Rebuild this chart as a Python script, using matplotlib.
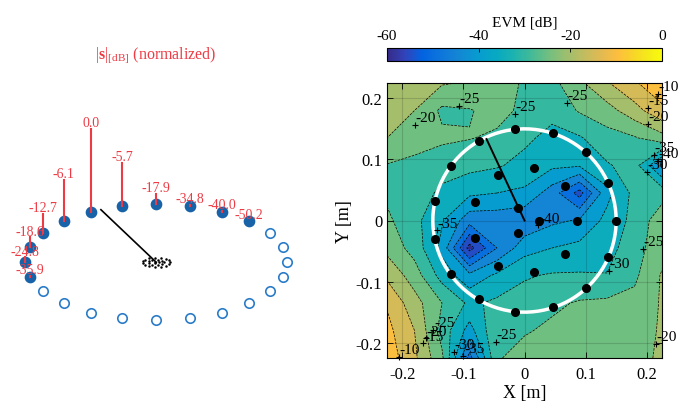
import numpy as np
import matplotlib
matplotlib.use('Agg')
import matplotlib.pyplot as plt
from matplotlib.colors import LinearSegmentedColormap, Normalize
from matplotlib.cm import ScalarMappable

plt.rcParams['font.family'] = 'Liberation Serif'
plt.rcParams['mathtext.fontset'] = 'custom'
plt.rcParams['mathtext.rm'] = 'Liberation Serif'
plt.rcParams['mathtext.bf'] = 'Liberation Serif:bold'
plt.rcParams['mathtext.it'] = 'Liberation Serif:italic'
plt.rcParams['axes.unicode_minus'] = False

# ---- left panel: element ring and normalized excitation ----
active_deg = [195, 180, 165, 150, 135, 120, 105, 90, 75, 60, 45]
active_db = [-35.9, -24.8, -18.6, -12.7, -6.1, 0.0, -5.7, -17.9, -34.8, -40.0, -50.2]
idle_deg = [30, 15, 0, 345, 330, 315, 300, 285, 270, 255, 240, 225, 210]
steer_deg = 115

# ---- right panel: measured EVM map ----
grid_x = [-0.225, -0.18, -0.135, -0.09, -0.045, 0.0, 0.045, 0.09, 0.135, 0.18, 0.225]
grid_y = [0.225, 0.18, 0.135, 0.09, 0.045, 0.0, -0.045, -0.09, -0.135, -0.18, -0.225]
evm_db = [
    [-18, -19, -19.5, -20.5, -23, -25.5, -26.5, -21, -15.5, -10.5, -7],
    [-18.5, -20, -26, -25.3, -23.5, -26, -28.5, -24.5, -22, -17, -11],
    [-20, -22.5, -24, -24.8, -25.8, -29, -31.5, -30.5, -27, -25.5, -22],
    [-25.3, -26.5, -28, -28.5, -29.5, -31.5, -34, -34.5, -30.5, -28, -41],
    [-26, -27.5, -31, -34, -35, -36, -42.5, -52, -36.5, -28.5, -27],
    [-24, -28.5, -34.5, -43, -43, -44, -41, -39.5, -33.5, -28.5, -22],
    [-21.5, -27, -36.5, -57, -45, -37, -35, -33.5, -32, -27, -22],
    [-16, -22.5, -32, -38.5, -34, -30.5, -29.5, -29.5, -29.8, -26, -19.5],
    [-10.5, -18, -25, -31, -29, -28, -26, -24.5, -24, -23.5, -19.5],
    [-8.5, -15, -27, -37, -25.5, -25.5, -24, -22.5, -22.5, -22, -19.5],
    [-7, -14, -24, -47, -25.5, -23, -22.5, -22, -21.5, -21, -19.5],
]
levels = list(range(-60, 5, 5))

pts_x = [0.150, 0.137, 0.100, 0.0465, -0.015, -0.074, -0.120, -0.146, -0.146, -0.120,
         -0.074, -0.015, 0.0465, 0.100, 0.137,
         0.086, 0.066, 0.0155, -0.043, -0.081, -0.081, -0.043, 0.0155, 0.066,
         0.024, -0.011, -0.011]
pts_y = [0.000, 0.062, 0.112, 0.143, 0.149, 0.130, 0.089, 0.032, -0.031, -0.088,
         -0.129, -0.149, -0.142, -0.111, -0.060,
         0.0, 0.056, 0.086, 0.075, 0.030, -0.029, -0.075, -0.084, -0.055,
         0.0, 0.020, -0.020]
ring_r = 0.15

lab_x = [-0.180, -0.108, -0.0155, 0.069, 0.2185, 0.202, 0.202, 0.212, 0.218, 0.200,
         -0.143, 0.0225, 0.194, 0.1385, 0.2147, -0.047, -0.116, -0.100, -0.149,
         -0.162, -0.166, -0.206]
lab_y = [0.156, 0.188, 0.174, 0.193, 0.2075, 0.184, 0.158, 0.108, 0.098, 0.080,
         -0.016, -0.008, -0.046, -0.082, -0.202, -0.198, -0.215, -0.222, -0.179,
         -0.193, -0.201, -0.223]
lab_v = [-20, -25, -25, -25, -10, -15, -20, -35, -40, -30,
         -35, -40, -25, -30, -20, -25, -30, -35, -25,
         -20, -15, -10]

# MATLAB parula, sampled
parula = LinearSegmentedColormap.from_list('parula', [
    (0 / 63, (0.2081, 0.1663, 0.5292)),
    (4 / 63, (0.1959, 0.2645, 0.7279)),
    (8 / 63, (0.0117, 0.3875, 0.8820)),
    (12 / 63, (0.0498, 0.4586, 0.8641)),
    (16 / 63, (0.0793, 0.5200, 0.8312)),
    (21 / 63, (0.0265, 0.6137, 0.8135)),
    (25 / 63, (0.0267, 0.6642, 0.7607)),
    (29 / 63, (0.1133, 0.7015, 0.6859)),
    (33 / 63, (0.2586, 0.7317, 0.5954)),
    (37 / 63, (0.4420, 0.7481, 0.5033)),
    (41 / 63, (0.6099, 0.7473, 0.4337)),
    (45 / 63, (0.7525, 0.7384, 0.3768)),
    (49 / 63, (0.8824, 0.7274, 0.3217)),
    (53 / 63, (0.9938, 0.7455, 0.2403)),
    (57 / 63, (0.9697, 0.8481, 0.1475)),
    (60 / 63, (0.9598, 0.9218, 0.0948)),
    (63 / 63, (0.9763, 0.9831, 0.0538)),
])
norm = Normalize(-60, 0)
# each band takes the colour of its lower level
band_colors = [parula(norm(v)) for v in levels[:-1]]

red = '#ec3b44'
blue_fill = '#1862a8'
blue_open = '#2a7cc8'

fig = plt.figure(figsize=(6.78, 4.10), dpi=100)

# left panel in ellipse units (1 unit = 131 px)
axl = fig.add_axes([0, 0, 339 / 678, 1])
axl.axis('off')
axl.set_xlim(-1.193, 1.395)
axl.set_ylim(-1.120, 2.010)
squash = 0.443
stem_scale = 0.636

th = np.deg2rad(idle_deg)
axl.plot(np.cos(th), squash * np.sin(th), 'o', ls='none', mfc='white',
         mec=blue_open, ms=6.8, mew=1.2)
th = np.deg2rad(active_deg)
ex, ey = np.cos(th), squash * np.sin(th)
axl.plot(ex, ey, 'o', ls='none', color=blue_fill, ms=7.4)
for x, y, db in zip(ex, ey, active_db):
    h = stem_scale * 10 ** (db / 20)
    axl.plot([x, x], [y, y + h], color=red, lw=1.5, zorder=4)
    axl.annotate(f'{db:.1f}', (x, y + h), xytext=(0, 2), textcoords='offset points',
                 ha='center', va='baseline', color=red, fontsize=10, zorder=5)

st = np.deg2rad(steer_deg)
axl.plot([0, np.cos(st)], [0, squash * np.sin(st)], color='k', lw=1.2)
# measurement points, seen from the array
axl.plot(np.array(pts_x) * 0.712, np.array(pts_y) * 0.712 * 0.33,
         'o', ls='none', color='k', ms=0.8)

fig.text(156 / 678, 1 - 60 / 410, r'$|\mathbf{s}|_{[\mathrm{dB}]}$ (normalized)',
         color=red, fontsize=11.5, ha='center', va='baseline')

# right panel
ax = fig.add_axes([387 / 678, (410 - 359) / 410, 275 / 678, 275 / 410])
Z = np.array(evm_db)
ax.contourf(grid_x, grid_y, Z, levels=levels, colors=band_colors)
ax.contour(grid_x, grid_y, Z, levels=levels, colors='k', linewidths=0.5)
ax.set_xlim(-0.225, 0.225)
ax.set_ylim(-0.225, 0.225)
ax.set_xticks([-0.2, -0.1, 0, 0.1, 0.2])
ax.set_yticks([-0.2, -0.1, 0, 0.1, 0.2])
ax.set_xticklabels(['-0.2', '-0.1', '0', '0.1', '0.2'])
ax.set_yticklabels(['-0.2', '-0.1', '0', '0.1', '0.2'])
ax.tick_params(direction='in', top=True, right=True, labelsize=12, length=4, width=0.6)
ax.tick_params(axis='x', pad=6)
ax.set_axisbelow(False)
ax.grid(True, color='k', alpha=0.15, lw=0.8)
ax.set_xlabel('X [m]', fontsize=13, labelpad=1)
ax.set_ylabel('Y [m]', fontsize=13, labelpad=2)
for s in ax.spines.values():
    s.set_linewidth(0.8)

tt = np.linspace(0, 2 * np.pi, 200)
ax.plot(ring_r * np.cos(tt), ring_r * np.sin(tt), color='white', lw=2.5, zorder=3)
ax.plot([0, 0.147 * np.cos(st)], [0, 0.147 * np.sin(st)], color='k', lw=1.4, zorder=4)
ax.plot(pts_x, pts_y, 'o', ls='none', color='k', ms=5.5, zorder=5)

for x, y, v in zip(lab_x, lab_y, lab_v):
    ax.plot(x, y, '+', color='k', ms=5, mew=0.8, zorder=6, clip_on=False)
    ax.annotate(str(v), (x, y), xytext=(0.5, 0.5), textcoords='offset points',
                ha='left', va='bottom', fontsize=11, zorder=6, annotation_clip=False)

# colorbar
cax = fig.add_axes([387 / 678, (410 - 62) / 410, 275 / 678, 13 / 410])
cb = fig.colorbar(ScalarMappable(norm=norm, cmap=parula), cax=cax, orientation='horizontal')
cb.set_ticks([-60, -40, -20, 0])
cax.xaxis.set_ticks_position('top')
cax.xaxis.set_label_position('top')
cax.tick_params(direction='in', labelsize=11, length=3, width=0.6, pad=4)
cb.outline.set_linewidth(0.8)
cb.set_label('EVM [dB]', fontsize=11, labelpad=3)

fig.savefig('out.png', dpi=100)
